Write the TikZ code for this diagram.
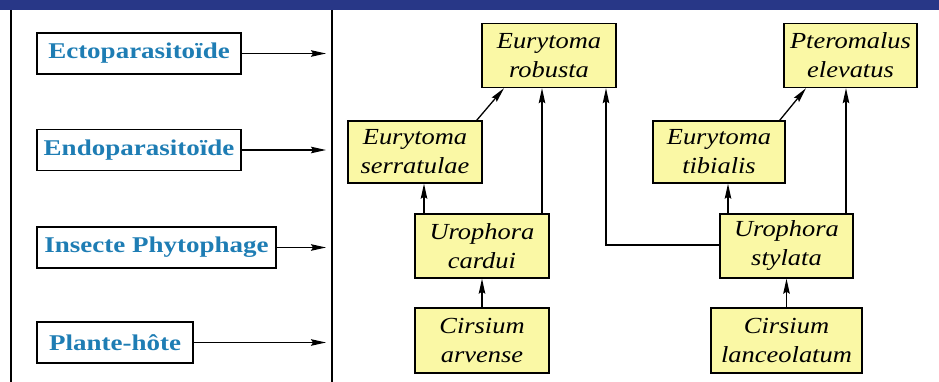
\documentclass[tikz,border=0pt]{standalone}
\usepackage{fontspec}
\setmainfont{Liberation Serif}
\newfontfamily\boldlbl[FakeStretch=1.2]{Liberation Serif}
\newfontfamily\itlbl[FakeStretch=1.15]{Liberation Serif}
\usetikzlibrary{arrows.meta}
\definecolor{navy}{RGB}{40,55,135}
\definecolor{lblue}{RGB}{30,125,180}
\definecolor{pyellow}{RGB}{250,248,165}
\begin{document}
\begin{tikzpicture}[x=1pt,y=-1pt,
  lvl/.style={draw=black, line width=1.4pt, fill=white, text=lblue, inner sep=0pt,
    font=\boldlbl\bfseries\fontsize{22.5}{26}\selectfont, minimum height=41pt},
  sp/.style={draw=black, line width=1.4pt, fill=pyellow, inner sep=0pt, align=center,
    font=\itlbl\itshape\fontsize{23}{29}\selectfont, minimum height=64pt, minimum width=134pt},
  arr/.style={line width=1.3pt, -{Stealth[length=15pt,width=6.5pt,inset=2pt]}},
  frame/.style={line width=1.3pt}]
\useasboundingbox (0,0) rectangle (939,382);
\fill[navy] (0,0) rectangle (939,10);
\draw[frame] (11,10) -- (11,382);
\draw[frame] (332,10) -- (332,382);
% level boxes
\node[lvl, minimum width=204pt] (ecto) at (139,53.5) {Ectoparasitoïde};
\node[lvl, minimum width=204pt] (endo) at (139,150) {Endoparasitoïde};
\node[lvl, minimum width=239pt] (phyt) at (156.5,247.5) {Insecte Phytophage};
\node[lvl, minimum width=156pt] (plan) at (115,342.5) {Plante-hôte};
\coordinate (ectoE) at (326,53.5);
\coordinate (endoE) at (326,150);
\coordinate (phytE) at (326,247.5);
\coordinate (planE) at (326,342.5);
\draw[arr] (ecto.east) -- (ectoE);
\draw[arr] (endo.east) -- (endoE);
\draw[arr] (phyt.east) -- (phytE);
\draw[arr] (plan.east) -- (planE);
% species boxes
\node[sp] (rob) at (549,55.5) {Eurytoma\\robusta};
\node[sp, minimum width=133pt] (elev) at (850.5,55.5) {Pteromalus\\elevatus};
\node[sp, minimum height=62pt] (serr) at (415,152) {Eurytoma\\serratulae};
\node[sp, minimum height=62pt, minimum width=132pt] (tib) at (719,152) {Eurytoma\\tibialis};
\node[sp] (card) at (482,246) {Urophora\\cardui};
\node[sp, minimum width=133pt] (styl) at (786.5,246) {Urophora\\stylata};
\node[sp, minimum height=65pt] (arv) at (482,340.5) {Cirsium\\arvense};
\node[sp, minimum height=65pt, minimum width=151pt] (lanc) at (786.5,340.5) {Cirsium\\lanceolatum};
% trophic links
\draw[arr] (arv.north) -- (card.south);
\draw[arr] (lanc.north) -- (styl.south);
\draw[arr] ([xshift=-58pt]card.north) -- ([xshift=9pt]serr.south);
\draw[arr] ([xshift=-58.5pt]styl.north) -- ([xshift=9pt]tib.south);
\draw[arr] ([xshift=-6pt]serr.north east) -- ([xshift=-45pt]rob.south);
\draw[arr] ([xshift=-6pt]tib.north east) -- ([xshift=-44.5pt]elev.south);
\draw[arr] ([xshift=60pt]card.north) -- ([xshift=-7pt]rob.south);
\draw[arr] ([xshift=-4.5pt]elev.south |- styl.north) -- ([xshift=-4.5pt]elev.south);
\draw[arr] ([yshift=1pt]styl.west) -| ([xshift=57pt]rob.south);
\end{tikzpicture}
\end{document}
